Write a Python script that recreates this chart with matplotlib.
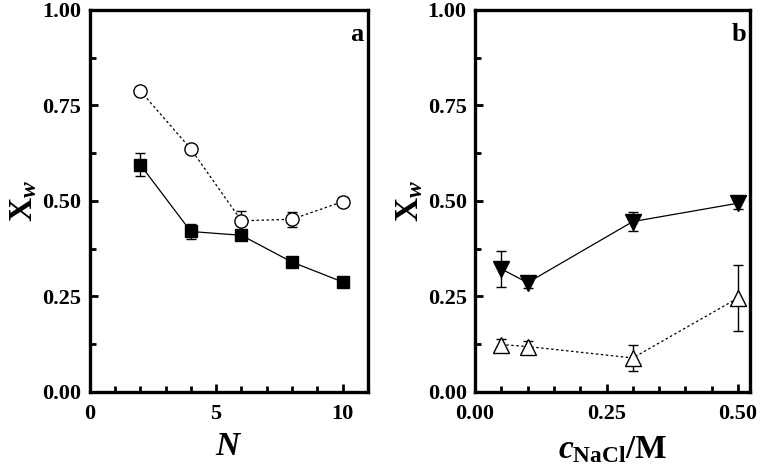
import matplotlib
matplotlib.use("Agg")
import matplotlib.pyplot as plt
from matplotlib.ticker import MultipleLocator

plt.rcParams['font.family'] = ['Liberation Serif', 'DejaVu Serif']
plt.rcParams['font.weight'] = 'bold'
plt.rcParams['mathtext.fontset'] = 'custom'
plt.rcParams['mathtext.rm'] = 'Liberation Serif:bold'
plt.rcParams['mathtext.it'] = 'Liberation Serif:italic:bold'
plt.rcParams['mathtext.bf'] = 'Liberation Serif:bold'

# panel a
n_vals = [2, 4, 6, 8, 10]
xw_square = [0.595, 0.42, 0.41, 0.34, 0.288]
err_square = [0.03, 0.02, 0.012, 0.008, 0.008]
xw_circle = [0.788, 0.636, 0.448, 0.452, 0.498]
err_circle = [0.01, 0.01, 0.025, 0.02, 0.012]

# panel b
c_nacl = [0.05, 0.1, 0.3, 0.5]
xw_down = [0.322, 0.286, 0.446, 0.494]
err_down = [0.048, 0.015, 0.025, 0.015]
xw_up = [0.124, 0.119, 0.089, 0.246]
err_up = [0.015, 0.015, 0.034, 0.087]

fig = plt.figure(figsize=(7.6, 4.7), dpi=100)
ax_a = fig.add_axes([0.118, 0.166, 0.366, 0.813])
ax_b = fig.add_axes([0.625, 0.166, 0.362, 0.813])


def style_axes(ax):
    for s in ax.spines.values():
        s.set_linewidth(2.4)
    ax.tick_params(which='both', direction='in', width=2, labelsize=16)
    ax.tick_params(axis='y', pad=6)
    ax.tick_params(axis='x', pad=9)
    ax.tick_params(which='major', length=6)
    ax.tick_params(which='minor', length=4)
    ax.set_ylim(0, 1.0)
    ax.yaxis.set_major_locator(MultipleLocator(0.25))
    ax.yaxis.set_minor_locator(MultipleLocator(0.125))
    ax.yaxis.set_major_formatter(plt.FormatStrFormatter('%.2f'))
    for lab in ax.get_xticklabels() + ax.get_yticklabels():
        lab.set_fontweight('bold')
    ax.set_ylabel(r'$\mathrm{X}_{\mathit{w}}$', fontsize=24, labelpad=2)


eb = dict(color='black', ecolor='black', elinewidth=1, capsize=3.5, capthick=1, lw=0.9)

ax_a.errorbar(n_vals, xw_square, yerr=err_square, marker='s', ms=9,
              mfc='black', mec='black', ls='-', **eb)
ax_a.errorbar(n_vals, xw_circle, yerr=err_circle, marker='o', ms=9.5,
              mfc='white', mec='black', mew=1, ls=(0, (2, 2)), **eb)
ax_a.set_xlim(0, 11)
ax_a.xaxis.set_major_locator(MultipleLocator(5))
ax_a.xaxis.set_minor_locator(MultipleLocator(1))
style_axes(ax_a)
ax_a.set_xlabel(r'$\mathit{N}$', fontsize=24, labelpad=5)
ax_a.text(0.985, 0.935, 'a', transform=ax_a.transAxes, fontsize=19,
          fontweight='bold', ha='right', va='center')

ax_b.errorbar(c_nacl, xw_down, yerr=err_down, marker='v', ms=12,
              mfc='black', mec='black', ls='-', **eb)
ax_b.errorbar(c_nacl, xw_up, yerr=err_up, marker='^', ms=12,
              mfc='white', mec='black', mew=1, ls=(0, (2, 2)), **eb)
ax_b.set_xlim(0, 0.523)
ax_b.xaxis.set_major_locator(MultipleLocator(0.25))
ax_b.xaxis.set_minor_locator(MultipleLocator(0.05))
ax_b.xaxis.set_major_formatter(plt.FormatStrFormatter('%.2f'))
style_axes(ax_b)
ax_b.set_xlabel(r'$\mathit{c}_{\mathrm{NaCl}}\mathrm{/M}$', fontsize=24, labelpad=7)
ax_b.text(0.985, 0.935, 'b', transform=ax_b.transAxes, fontsize=19,
          fontweight='bold', ha='right', va='center')

fig.savefig('out.png', dpi=100)
